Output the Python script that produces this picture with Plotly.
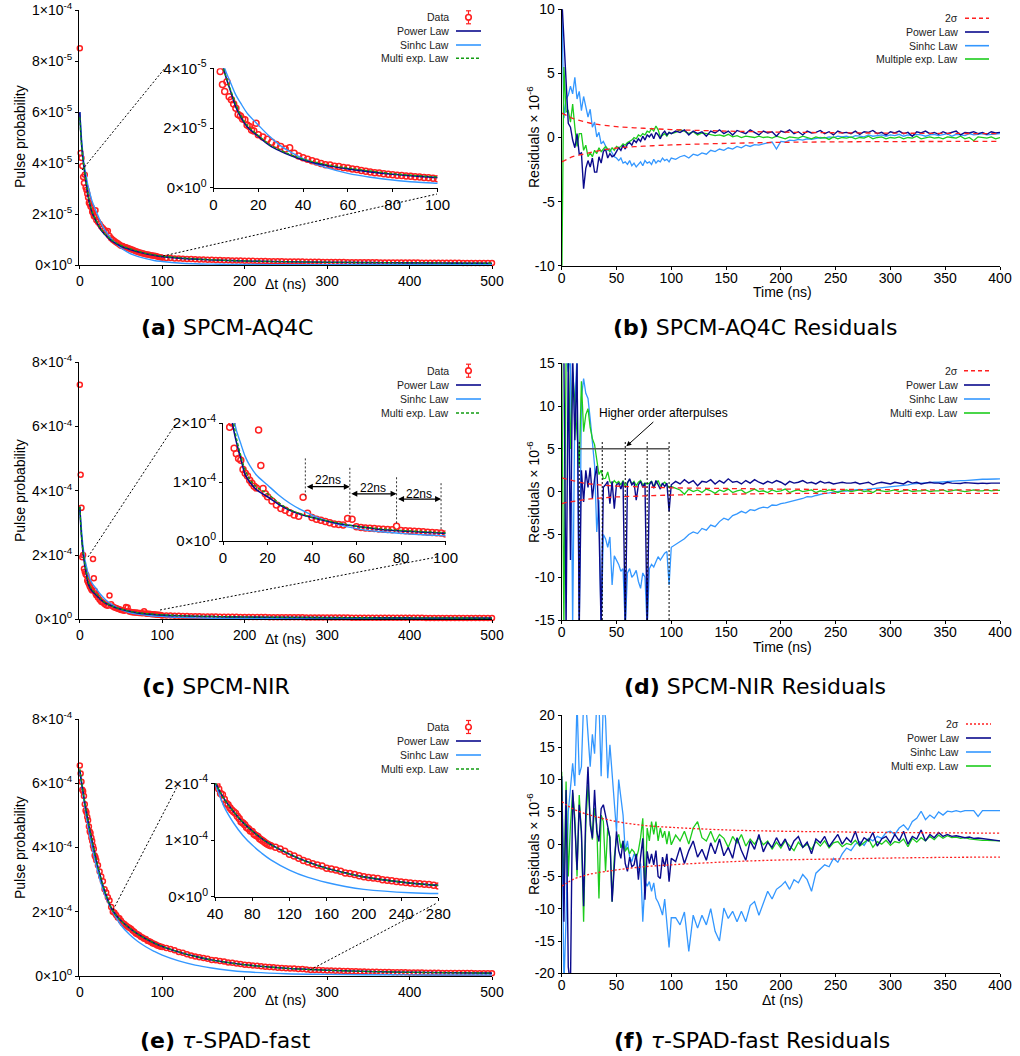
import plotly.graph_objects as go

W, H = 1020, 1056
FONT = "Liberation Sans"
CAP_FONT = "DejaVu Sans"
NAVY = "#0a0a8c"
SKY = "#3397ff"
GREEN = "#1ccc1c"
GREEN_D = "#119c11"
RED = "#ff2020"

# ---------------- data (probabilities: a in 1e-5 units, c/e in 1e-4 units) ----------------
DATA_T = list(range(0, 21)) + list(range(22, 101, 2)) + list(range(105, 501, 5))
FIT_T = [0, 1, 2, 3, 4, 5, 6, 8, 10, 12, 15, 20, 25, 30, 35, 40, 50, 60, 70, 80, 90, 100,
         120, 140, 160, 180, 200, 250, 300, 350, 400, 450, 500]
RES_T = list(range(0, 101, 2)) + list(range(104, 401, 4))
SIG_T = [0, 5, 10, 20, 30, 50, 75, 100, 150, 200, 250, 300, 350, 400]

A_DATA = [8.5, 4.4, 4.2, 3.89, 3.46, 3.22, 3.55, 3.05, 2.95, 2.8, 2.66, 2.45, 2.4, 2.3, 2.28, 2.1, 2.05, 1.93, 1.9, 2.16, 1.77,
          1.7, 1.62, 1.52, 1.45, 1.38, 1.3, 1.34, 1.15, 1.06, 1.0,
          0.95, 0.9, 0.86, 0.81, 0.77, 0.76, 0.72, 0.71, 0.68, 0.66,
          0.63, 0.61, 0.58, 0.55, 0.53, 0.5, 0.49, 0.47, 0.45, 0.43,
          0.42, 0.41, 0.39, 0.38, 0.37, 0.36, 0.34, 0.33, 0.32, 0.3,
          0.29, 0.285, 0.27, 0.265, 0.255, 0.25, 0.245, 0.235, 0.23, 0.225,
          0.22, 0.215, 0.21, 0.205, 0.2, 0.198, 0.19, 0.188, 0.185, 0.18,
          0.178, 0.175, 0.17, 0.168, 0.165, 0.163, 0.16, 0.158, 0.155, 0.153,
          0.15, 0.148, 0.146, 0.144, 0.142, 0.14, 0.138, 0.136, 0.134, 0.132,
          0.13, 0.128, 0.127, 0.126, 0.124, 0.123, 0.122, 0.12, 0.119, 0.118,
          0.117, 0.116, 0.114, 0.113, 0.112, 0.111, 0.11, 0.109, 0.108, 0.107,
          0.106, 0.105, 0.104, 0.103, 0.102, 0.101, 0.1, 0.099, 0.098, 0.097,
          0.096, 0.095, 0.094, 0.093, 0.092, 0.091, 0.09, 0.089, 0.088, 0.087]
A_POW = [6.0, 5.3, 4.8, 4.4, 4.1, 3.85, 3.6, 3.15, 2.7, 2.4, 2.05, 1.72, 1.42, 1.22, 1.06, 0.93, 0.75, 0.63, 0.53, 0.45,
         0.39, 0.34, 0.28, 0.24, 0.21, 0.19, 0.17, 0.14, 0.12, 0.105, 0.095, 0.087, 0.08]
A_SIN = [6.0, 5.5, 5.0, 4.6, 4.3, 4.0, 3.8, 3.45, 3.1, 2.85, 2.5, 2.1, 1.72, 1.4, 1.17, 0.97, 0.68, 0.48, 0.35, 0.26,
         0.19, 0.15, 0.09, 0.06, 0.045, 0.035, 0.03, 0.025, 0.02, 0.02, 0.02, 0.02, 0.02]
A_MUL = [5.8, 5.2, 4.75, 4.4, 4.1, 3.85, 3.62, 3.2, 2.8, 2.45, 2.1, 1.75, 1.45, 1.25, 1.09, 0.96, 0.78, 0.66, 0.56, 0.47,
         0.41, 0.36, 0.3, 0.25, 0.22, 0.19, 0.17, 0.14, 0.12, 0.105, 0.095, 0.087, 0.08]

C_DATA = [7.3, 4.5, 3.47, 1.93, 2.0, 1.57, 1.48, 1.4, 1.37, 1.21, 1.15, 1.1, 1.03, 0.98, 0.93, 0.9, 1.88, 1.28, 0.89, 0.8, 0.75,
          0.68, 0.61, 0.55, 0.52, 0.48, 0.44, 0.42, 0.74, 0.47, 0.4,
          0.37, 0.35, 0.33, 0.31, 0.29, 0.28, 0.27, 0.38, 0.37, 0.24,
          0.23, 0.22, 0.215, 0.21, 0.205, 0.2, 0.195, 0.19, 0.25, 0.18,
          0.175, 0.17, 0.165, 0.16, 0.155, 0.15, 0.145, 0.14, 0.135, 0.12,
          0.118, 0.115, 0.11, 0.107, 0.104, 0.1, 0.098, 0.095, 0.092, 0.09,
          0.088, 0.086, 0.084, 0.082, 0.08, 0.079, 0.077, 0.076, 0.074, 0.073,
          0.072, 0.071, 0.07, 0.069, 0.068, 0.067, 0.066, 0.065, 0.064, 0.063,
          0.062, 0.061, 0.061, 0.06, 0.059, 0.058, 0.058, 0.057, 0.056, 0.056,
          0.055, 0.055, 0.054, 0.053, 0.053, 0.052, 0.052, 0.051, 0.051, 0.05,
          0.05, 0.049, 0.049, 0.048, 0.048, 0.047, 0.047, 0.047, 0.046, 0.046,
          0.045, 0.045, 0.045, 0.044, 0.044, 0.044, 0.043, 0.043, 0.043, 0.042,
          0.042, 0.042, 0.041, 0.041, 0.041, 0.04, 0.04, 0.04, 0.04, 0.039]
C_POW = [3.5, 3.0, 2.6, 2.3, 2.05, 1.85, 1.68, 1.4, 1.12, 1.0, 0.87, 0.75, 0.62, 0.52, 0.45, 0.4, 0.31, 0.25, 0.2, 0.17,
         0.15, 0.13, 0.11, 0.095, 0.085, 0.077, 0.07, 0.06, 0.052, 0.047, 0.043, 0.04, 0.038]
C_SIN = [3.5, 3.1, 2.8, 2.5, 2.25, 2.05, 1.88, 1.65, 1.43, 1.28, 1.12, 0.95, 0.78, 0.64, 0.53, 0.44, 0.3, 0.21, 0.16, 0.13,
         0.105, 0.09, 0.06, 0.045, 0.035, 0.03, 0.025, 0.02, 0.02, 0.02, 0.02, 0.02, 0.02]
C_MUL = [3.5, 3.0, 2.6, 2.3, 2.1, 1.95, 1.75, 1.45, 1.2, 1.05, 0.92, 0.8, 0.65, 0.53, 0.46, 0.4, 0.32, 0.25, 0.21, 0.18,
         0.16, 0.14, 0.115, 0.1, 0.088, 0.08, 0.072, 0.062, 0.054, 0.048, 0.044, 0.041, 0.038]

E_DATA = [6.55, 6.3, 6.05, 5.8, 5.75, 5.6, 5.35, 5.15, 5.1, 4.95, 4.85, 4.65, 4.5, 4.45, 4.3, 4.2, 4.05, 3.95, 3.75, 3.7, 3.6,
          3.45, 3.25, 3.1, 2.95, 2.7, 2.6, 2.45, 2.35, 2.15, 2.0,
          1.97, 1.9, 1.82, 1.8, 1.72, 1.65, 1.62, 1.57, 1.53, 1.5,
          1.47, 1.42, 1.38, 1.32, 1.3, 1.27, 1.22, 1.2, 1.16, 1.15,
          1.1, 1.08, 1.06, 1.02, 1.0, 0.98, 0.95, 0.93, 0.91, 0.9,
          0.87, 0.84, 0.8, 0.75, 0.72, 0.68, 0.64, 0.61, 0.58, 0.56,
          0.54, 0.5, 0.49, 0.47, 0.45, 0.42, 0.41, 0.39, 0.37, 0.35,
          0.34, 0.33, 0.32, 0.3, 0.29, 0.28, 0.27, 0.26, 0.25, 0.24,
          0.235, 0.23, 0.22, 0.215, 0.2, 0.19, 0.19, 0.185, 0.18, 0.175,
          0.17, 0.165, 0.16, 0.156, 0.152, 0.148, 0.145, 0.142, 0.139, 0.136,
          0.133, 0.13, 0.128, 0.125, 0.122, 0.12, 0.118, 0.116, 0.114, 0.112,
          0.11, 0.108, 0.106, 0.104, 0.102, 0.1, 0.099, 0.097, 0.096, 0.095,
          0.094, 0.093, 0.092, 0.091, 0.09, 0.089, 0.088, 0.087, 0.086, 0.085]
E_POW = [6.4, 6.22, 6.05, 5.88, 5.72, 5.56, 5.4, 5.1, 4.82, 4.55, 4.18, 3.6, 3.1, 2.65, 2.3, 2.03, 1.72, 1.5, 1.31, 1.16,
         1.03, 0.92, 0.75, 0.61, 0.5, 0.42, 0.35, 0.24, 0.18, 0.14, 0.115, 0.1, 0.09]
E_SIN = [6.4, 6.2, 6.0, 5.8, 5.62, 5.45, 5.28, 4.95, 4.65, 4.37, 3.98, 3.42, 2.95, 2.55, 2.25, 2.0, 1.58, 1.3, 1.08, 0.91,
         0.77, 0.65, 0.47, 0.34, 0.25, 0.18, 0.13, 0.07, 0.05, 0.04, 0.035, 0.03, 0.03]
E_MUL = [6.45, 6.25, 6.07, 5.9, 5.73, 5.57, 5.41, 5.1, 4.83, 4.56, 4.18, 3.6, 3.1, 2.66, 2.3, 2.03, 1.72, 1.5, 1.31, 1.16,
         1.03, 0.92, 0.75, 0.61, 0.5, 0.42, 0.35, 0.24, 0.18, 0.14, 0.115, 0.1, 0.09]

# ---------------- residuals (x 1e-6) ----------------
B_POW = [11, 7.5, 5.0, 1.1, 0.8, -0.2, -0.8, 0.3, -1.3, -1.2,
         -4.0, -2.4, -1.8, -2.3, -1.6, -2.7, -2.7, -1.5, -2.0, -1.1,
         -0.9, -1.6, -1.25, -1.5, -1.4, -1.1, -0.8, -1.0, -0.6, -0.9,
         -0.5, -0.4, -0.6, -0.2, -0.4, -0.1, -0.3, 0.1, -0.2, 0.2,
         0.05, 0.3, -0.1, 0.4, 0.2, -0.1, 0.3, 0.5, 0.2, 0.4,
         0.3,
         0.5, 0.4, 0.6, 0.2, 0.5, 0.3, 0.45, 0.1, 0.5, 0.35,
         0.6, 0.3, 0.5, 0.2, 0.55, 0.4, 0.3, 0.6, 0.4, 0.2,
         0.5, 0.35, 0.45, 0.1, 0.5, 0.4, 0.6, 0.3, 0.45, 0.2,
         0.5, 0.35, 0.4, 0.55, 0.3, 0.45, 0.2, 0.5, 0.35, 0.4,
         0.3, 0.5, 0.25, 0.45, 0.4, 0.55, 0.3, 0.4, 0.2, 0.45,
         0.35, 0.5, 0.3, 0.4, 0.1, 0.45, 0.35, 0.5, 0.3, 0.4,
         0.25, 0.45, 0.3, 0.4, 0.5, 0.2, 0.4, 0.35, 0.45, 0.3,
         0.4, 0.25, 0.45, 0.35, 0.4]
B_SIN = [11, 1.5, 3.0, 3.3, 4.0, 3.4, 4.7, 3.0, 3.6, 2.1,
         3.2, 2.4, 1.6, 2.2, 0.8, 1.2, 0.05, 0.4, -0.5, -0.3,
         -0.7, -1.0, -0.9, -1.25, -1.5, -1.6, -1.8, -1.6, -2.0, -1.9,
         -2.1, -1.8, -2.2, -2.0, -2.3, -2.1, -1.9, -2.2, -1.8, -2.0,
         -1.9, -2.1, -1.7, -2.0, -1.8, -1.9, -1.6, -1.8, -1.7, -1.9,
         -1.6,
         -1.7, -1.5, -1.4, -1.6, -1.3, -1.4, -1.2, -1.3, -1.0, -1.1,
         -0.9, -1.0, -0.8, -0.9, -0.7, -0.8, -0.6, -0.7, -0.55, -0.6,
         -0.5, -0.45, -0.35, -0.9, -0.3, -0.35, -0.2, -0.25, -0.15, -0.2,
         -0.1, -0.15, -0.05, 0.0, -0.05, 0.05, 0.0, 0.1, 0.05, 0.1,
         0.0, 0.15, 0.1, 0.05, 0.2, 0.1, 0.15, 0.2, 0.1, 0.2,
         0.15, 0.25, 0.1, 0.2, 0.15, 0.25, 0.2, 0.1, 0.2, 0.25,
         0.15, 0.2, 0.3, 0.1, 0.25, 0.2, 0.15, 0.3, 0.2, 0.25,
         0.3, 0.2, 0.25, 0.3, 0.3]
B_MUL = [-12, 5.5, 2.0, 2.1, 1.2, 2.6, 0.8, -0.7, 0.3, 0.3,
         -1.0, -0.6, -1.5, -1.2, -1.5, -1.0, -1.25, -0.8, -1.1, -0.9,
         -0.7, -0.9, -1.1, -0.8, -1.0, -0.7, -0.8, -0.7, -0.5, -0.6,
         -0.4, -0.3, -0.2, 0.0, -0.1, 0.2, 0.1, 0.3, 0.2, 0.5,
         0.4, 0.7, 0.5, 0.9, 0.6, 0.05, 0.2, 0.3, 0.1, 0.4,
         0.3,
         0.4, 0.6, 0.5, 0.3, 0.45, 0.2, 0.35, 0.3, 0.25, 0.15,
         0.2, 0.1, 0.25, 0.05, 0.15, 0.0, 0.1, 0.05, 0.0, 0.1,
         0.0, 0.05, -0.05, 0.1, 0.0, -0.1, 0.05, 0.0, -0.05, 0.1,
         0.0, -0.1, 0.05, -0.05, 0.0, -0.15, 0.05, -0.1, 0.0, -0.05,
         0.05, -0.1, 0.0, -0.05, 0.1, -0.1, 0.0, 0.05, -0.1, 0.0,
         -0.05, 0.05, -0.1, 0.0, -0.05, 0.1, -0.1, 0.0, 0.05, -0.05,
         0.0, -0.1, 0.05, 0.0, -0.05, 0.1, -0.1, 0.0, -0.25, 0.05,
         0.0, -0.05, 0.05, -0.1, 0.0]
B_SIG_UP = [1.9, 1.7, 1.5, 1.25, 1.05, 0.85, 0.72, 0.62, 0.5, 0.42, 0.37, 0.34, 0.32, 0.3]
B_SIG_LO = [-1.9, -1.7, -1.5, -1.3, -1.1, -0.82, -0.68, -0.58, -0.46, -0.38, -0.34, -0.32, -0.31, -0.3]

D_POW = [18, 16, -16, 16, -8, 16, 6, 15, -16, 2.5,
         -1.2, 2.5, 0.5, 2.8, -0.8, 1.5, 3.0, -3.7, -16, 0.5,
         0.8, 1.2, -1.4, 1.2, -2.0, 0.8, 1.0, 0.3, 1.2, -16,
         1.0, 1.5, 0.8, 1.1, -1.0, 0.8, 1.2, 0.5, 1.0, -16,
         0.8, 1.2, 0.4, 1.3, 0.8, 0.3, 1.0, 0.6, 1.0, -2.3,
         0.8,
         1.2, 0.9, 1.4, 1.0, 1.3, 0.7, 1.2, 1.1, 1.4, 0.9,
         1.3, 1.0, 1.5, 1.1, 1.2, 0.9, 1.3, 1.0, 1.4, 1.1,
         0.9, 1.2, 1.0, 1.3, 1.1, 0.8, 1.2, 1.0, 1.1, 1.3,
         1.0, 1.1, 0.9, 1.2, 1.0, 1.1, 0.9, 1.0, 1.1, 1.0,
         1.0, 1.1, 0.9, 1.0, 1.1, 0.8, 1.0, 1.1, 1.0, 0.9,
         1.1, 1.0, 0.9, 1.2, 1.0, 1.1, 0.9, 1.0, 1.1, 1.0,
         1.0, 0.9, 1.1, 1.0, 1.0, 0.95, 1.05, 1.0, 1.0, 0.95,
         1.0, 0.95, 1.0, 1.0, 1.0]
D_SIN = [16, 16, 16, 14, 16, -16, 10, 16, -16, 11,
         13.2, 11.5, 10.9, 8.5, 6.0, 3.1, -4.7, -1.0, -16, -5.0,
         -5.5, -6.5, -5.3, -10.9, -7.5, -8.0, -8.5, -9.3, -9.0, -16,
         -9.5, -9.0, -10.0, -9.7, -9.2, -10.5, -11.3, -9.5, -10.0, -16,
         -9.0, -8.5, -8.8, -8.2, -7.6, -8.0, -7.6, -7.2, -7.0, -10.9,
         -6.5,
         -6.2, -5.8, -5.5, -5.0, -4.7, -4.9, -4.3, -4.5, -3.9, -4.1,
         -3.5, -3.1, -3.3, -2.8, -2.6, -2.3, -2.5, -2.1, -2.2, -1.95,
         -1.8, -1.9, -1.56, -1.6, -1.4, -1.3, -1.17, -1.0, -0.9, -0.8,
         -0.58, -0.6, -0.45, -0.3, -0.2, -0.15, -0.05, 0.0, 0.08, 0.05,
         0.15, 0.2, 0.25, 0.2, 0.3, 0.35, 0.4, 0.45, 0.5, 0.58,
         0.6, 0.7, 0.75, 0.8, 0.9, 0.95, 0.97, 1.0, 1.05, 1.1,
         1.1, 1.15, 1.17, 1.2, 1.25, 1.3, 1.3, 1.35, 1.4, 1.4,
         1.45, 1.45, 1.5, 1.48, 1.5]
D_MUL = [16, -16, 16, 16, 5, 14, 10.5, 6, 3, 12.9,
         7.0, 9.0, 9.7, 7.5, 6.2, 5.5, 3.5, 2.0, 2.5, 1.5,
         1.56, 2.3, 1.17, 0.9, 1.3, 1.0, 1.2, 0.8, 1.3, 0.6,
         1.1, 1.4, 0.9, 1.2, 0.7, 1.1, 1.3, 0.8, 1.0, 0.9,
         1.0, 1.2, 0.6, 1.0, 1.3, 0.7, 0.9, 1.1, 0.8, 0.5,
         0.6,
         0.4, 0.2, -0.3, 0.3, 0.0, 0.2, -0.1, 0.3, 0.1, -0.2,
         0.2, 0.0, 0.3, -0.1, 0.1, 0.2, -0.2, 0.1, 0.3, 0.0,
         0.1, -0.1, 0.2, 0.0, 0.1, 0.3, -0.1, 0.1, 0.2, 0.0,
         0.1, 0.2, -0.1, 0.1, 0.0, 0.2, 0.1, -0.1, 0.1, 0.2,
         0.0, 0.1, 0.2, 0.0, 0.1, -0.1, 0.2, 0.1, 0.0, 0.1,
         0.2, 0.0, 0.1, 0.2, 0.0, 0.1, 0.1, 0.2, 0.0, 0.1,
         0.1, 0.2, 0.0, 0.1, 0.2, 0.1, 0.0, 0.1, 0.2, 0.1,
         0.1, 0.2, 0.1, 0.15, 0.15]
D_SIG_UP = [1.6, 1.45, 1.3, 1.0, 0.85, 0.65, 0.55, 0.45, 0.37, 0.3, 0.26, 0.23, 0.21, 0.2]
D_SIG_LO = [-1.4, -1.25, -1.15, -0.95, -0.8, -0.62, -0.5, -0.4, -0.3, -0.22, -0.2, -0.2, -0.19, -0.19]

F_POW = [10.5, -12, 8.4, -19, -22, 8.4, 3.0, -4.0, 6.1, 2.0,
         -9.6, 5.0, 12.0, 3.0, 0.9, 8.4, 2.0, 0.4, 5.5, 6.1,
         4.5, 3.0, 1.0, -8.9, -3.0, 2.0, -1.0, -2.2, 0.5, -3.0,
         -4.2, -2.0, -3.5, -3.2, -1.5, -5.5, -2.0, 0.9, -8.6, -1.1,
         -3.0, -1.5, -3.2, -1.0, -5.0, -5.3, -2.0, -3.5, -1.5, -5.8,
         -2.2,
         -2.7, -0.5, -3.0, -1.0, 0.5, -2.0, -0.8, -2.5, 0.2, -1.5,
         0.8, -1.8, -0.5, -2.2, 1.0, -1.0, -2.5, 0.5, -0.8, 1.5,
         -1.2, 0.3, -0.5, 1.0, -0.3, 0.8, -1.0, 0.5, 1.2, -0.5,
         0.3, -1.5, 0.8, 0.2, 1.2, -0.4, 0.6, 1.5, 0.0, 1.0,
         0.3, 2.0, -0.2, 1.0, 0.5, 1.8, -0.3, 0.8, 1.2, 0.2,
         1.5, 0.5, 2.0, 0.0, 1.2, 0.8, 2.2, 0.5, 1.5, 1.0,
         1.8, 1.2, 1.5, 1.2, 1.3, 1.1, 1.0, 1.1, 0.9, 0.95,
         0.85, 0.8, 0.7, 0.6, 0.5]
F_SIN = [10, -22, -11.4, 5.0, 8.7, 12.5, 9.0, 22, 10.7, 12.0,
         22, 22, 17.0, 12.0, 17.0, 14.0, 22, 22, 10.5, 22,
         19.5, 10.2, 15.4, 10.5, 6.0, 2.0, 10.0, 7.0, 4.5, -1.1,
         0.5, -2.0, -2.7, -1.5, -2.2, -4.0, -3.0, -12.0, -5.8, -6.5,
         -5.8, -7.3, -6.0, -8.4, -9.0, -9.9, -11.0, -8.5, -12.0, -16.0,
         -11.4,
         -11.4, -12.5, -10.5, -16.6, -11.0, -13.0, -11.0, -12.5, -10.0, -13.5,
         -15.0, -9.9, -11.5, -10.4, -12.0, -10.4, -12.0, -9.5, -8.9, -11.0,
         -9.0, -7.3, -8.5, -7.0, -6.5, -5.8, -7.0, -5.5, -6.0, -4.7,
         -5.5, -7.3, -4.5, -3.8, -3.2, -3.5, -2.2, -2.8, -1.5, -0.6,
         -1.0, 0.0, 0.4, -0.2, 0.9, 0.5, 1.2, 0.9, 1.8, 2.0,
         1.5, 2.5, 3.0, 2.2, 3.5, 4.0, 5.1, 3.8, 4.5, 4.0,
         5.0, 4.5, 5.1, 5.0, 5.2, 5.0, 5.2, 5.2, 5.2, 4.3,
         5.2, 5.2, 5.2, 5.2, 5.2]
F_MUL = [11.2, -8, 9.7, -5, 3.0, 8.0, 4.0, -5.0, 7.6, 1.5,
         -12.0, 3.0, 9.2, 4.0, 0.7, 5.6, 3.0, -8.4, 4.5, 3.5,
         -4.2, 2.5, 1.0, -8.9, -2.0, 0.9, 1.5, -0.6, 0.5, -1.1,
         -0.5, -1.5, -0.8, -1.2, -2.2, -1.0, 1.0, 4.0, -7.3, 2.5,
         0.5, 3.5, 1.5, 3.5, 0.5, 2.5, 1.0, 2.0, 0.0, 2.0,
         -0.1,
         1.4, 0.5, 2.0, 0.0, 2.5, 3.5, 1.0, 0.5, 2.0, 0.3,
         1.5, 0.9, -0.5, 1.2, 0.2, 1.5, -0.3, 0.8, 0.0, 1.0,
         -0.1, 0.5, -0.8, 0.3, -0.6, 0.5, -0.2, -1.0, 0.3, -0.5,
         0.0, -0.8, 0.4, -0.3, 0.5, -0.6, 0.2, 0.4, -0.4, 0.1,
         -0.1, 0.6, -0.3, 0.2, 0.8, -0.5, 0.4, 0.0, 0.6, -0.2,
         0.4, 0.2, 0.8, -0.4, 0.9, 0.3, 1.0, 0.5, 1.2, 0.7,
         1.4, 0.9, 1.3, 1.0, 1.1, 0.9, 1.0, 0.8, 0.7, 0.7,
         0.6, 0.6, 0.55, 0.5, 0.5]
F_SIG_UP = [6.6, 6.0, 5.5, 4.8, 4.3, 3.5, 2.9, 2.6, 2.2, 2.0, 1.9, 1.8, 1.75, 1.7]
F_SIG_LO = [-6.5, -6.0, -5.5, -4.9, -4.5, -4.0, -3.5, -3.2, -2.75, -2.45, -2.3, -2.15, -2.05, -2.0]

AFTERPULSE_T = [16, 37, 58, 78, 98]
GAP_ARROWS = [(37, 57, 0.92, 1.03), (57, 78, 0.80, 0.89), (78, 98, 0.71, 0.79)]
GAP_MARKS = [(37, 1.40, 0.75), (57, 1.24, 0.41), (78, 1.08, 0.27), (98, 0.98, 0.16)]

# ---------------- tick labels ----------------
def sci(m, e):
    return f"{m}×10<sup>{e}</sup>"

MAIN_XT = [0, 100, 200, 300, 400, 500]
RES_XT = [0, 50, 100, 150, 200, 250, 300, 350, 400]
A_YT = [0, 2, 4, 6, 8, 10]
A_YL = [sci(0, 0), sci(2, -5), sci(4, -5), sci(6, -5), sci(8, -5), sci(1, -4)]
CE_YT = [0, 2, 4, 6, 8]
CE_YL = [sci(0, 0), sci(2, -4), sci(4, -4), sci(6, -4), sci(8, -4)]
AI_YT = [0, 2, 4]
AI_YL = [sci(0, 0), sci(2, -5), sci(4, -5)]
CI_YT = [0, 1, 2]
CI_YL = [sci(0, 0), sci(1, -4), sci(2, -4)]
INS_XT = [0, 20, 40, 60, 80, 100]
EINS_XT = [40, 80, 120, 160, 200, 240, 280]

# ---------------- layout geometry (pixels) ----------------
def fx(p):
    return p / W

def fy(p):
    return 1 - p / H

AXES = {
    1: dict(xd=(79, 492), yd=(10, 265.3), xr=[-1, 500], yr=[0, 10], xt=MAIN_XT, yt=A_YT, yl=A_YL, fs=14),
    2: dict(xd=(561.7, 1000), yd=(9.3, 265.7), xr=[0, 400], yr=[-10, 10], xt=RES_XT, yt=[-10, -5, 0, 5, 10], yl=None, fs=14),
    3: dict(xd=(79, 492), yd=(362.3, 619.3), xr=[-1, 500], yr=[0, 8], xt=MAIN_XT, yt=CE_YT, yl=CE_YL, fs=14),
    4: dict(xd=(561.7, 1000), yd=(363.3, 620), xr=[0, 400], yr=[-15, 15], xt=RES_XT, yt=[-15, -10, -5, 0, 5, 10, 15], yl=None, fs=14),
    5: dict(xd=(79, 492), yd=(719, 976), xr=[-1, 500], yr=[0, 8], xt=MAIN_XT, yt=CE_YT, yl=CE_YL, fs=14),
    6: dict(xd=(561.7, 1000), yd=(715, 973.3), xr=[0, 400], yr=[-20, 20], xt=RES_XT, yt=[-20, -15, -10, -5, 0, 5, 10, 15, 20], yl=None, fs=14),
    7: dict(xd=(213.5, 437.5), yd=(68.3, 187.7), xr=[0, 100], yr=[0, 4], xt=INS_XT, yt=AI_YT, yl=AI_YL, fs=15),
    8: dict(xd=(223, 445.5), yd=(423, 541), xr=[0, 100], yr=[0, 2], xt=INS_XT, yt=CI_YT, yl=CI_YL, fs=15),
    9: dict(xd=(215, 438.3), yd=(783.3, 896.7), xr=[40, 280], yr=[0, 2], xt=EINS_XT, yt=CI_YT, yl=CI_YL, fs=15),
}

def names(k):
    return ("x" if k == 1 else f"x{k}", "y" if k == 1 else f"y{k}")

fig = go.Figure()

def lines(k, x, y, color, width=1.5, dash="solid", shape="spline"):
    xa, ya = names(k)
    fig.add_trace(go.Scatter(x=x, y=y, xaxis=xa, yaxis=ya, mode="lines",
                             line=dict(color=color, width=width, dash=dash, shape=shape),
                             showlegend=False, hoverinfo="skip"))

def points(k, x, y, size, clip):
    xa, ya = names(k)
    fig.add_trace(go.Scatter(x=x, y=y, xaxis=xa, yaxis=ya, mode="markers",
                             marker=dict(symbol="circle-open", size=size, color=RED,
                                         line=dict(width=1.5, color=RED)),
                             cliponaxis=clip, showlegend=False, hoverinfo="skip"))

# data panels + insets
for main_k, ins_k, data, pw, sn, ml in [(1, 7, A_DATA, A_POW, A_SIN, A_MUL),
                                         (3, 8, C_DATA, C_POW, C_SIN, C_MUL),
                                         (5, 9, E_DATA, E_POW, E_SIN, E_MUL)]:
    for k, sz, clip in [(main_k, 5, False), (ins_k, 6, True)]:
        points(k, DATA_T, data, sz, clip)
        lines(k, FIT_T, sn, SKY, 1.4)
        lines(k, FIT_T, pw, NAVY, 1.6)
        lines(k, FIT_T, ml, GREEN_D, 1.3, dash="3px,2px")

# residual panels
for k, pw, sn, ml, su, sl, sdash in [(2, B_POW, B_SIN, B_MUL, B_SIG_UP, B_SIG_LO, "5px,4px"),
                                      (4, D_POW, D_SIN, D_MUL, D_SIG_UP, D_SIG_LO, "5px,4px"),
                                      (6, F_POW, F_SIN, F_MUL, F_SIG_UP, F_SIG_LO, "2px,2px")]:
    lines(k, RES_T, sn, SKY, 1.3, shape="linear")
    lines(k, RES_T, ml, GREEN, 1.3, shape="linear")
    lines(k, RES_T, pw, NAVY, 1.4, shape="linear")
    lines(k, SIG_T, su, RED, 1.3, dash=sdash)
    lines(k, SIG_T, sl, RED, 1.3, dash=sdash)

# ---------------- axes ----------------
layout = dict(width=W, height=H, margin=dict(l=0, r=0, t=0, b=0, autoexpand=False),
              paper_bgcolor="white", plot_bgcolor="rgba(0,0,0,0)", showlegend=False)
for k, a in AXES.items():
    xa, ya = names(k)
    xkey = "xaxis" if k == 1 else f"xaxis{k}"
    ykey = "yaxis" if k == 1 else f"yaxis{k}"
    tf = dict(family=FONT, size=a["fs"], color="black")
    layout[xkey] = dict(domain=[fx(a["xd"][0]), fx(a["xd"][1])], range=a["xr"], anchor=ya,
                        showline=True, linecolor="black", linewidth=1, ticks="outside", ticklen=3,
                        tickcolor="black", showgrid=False, zeroline=False, tickvals=a["xt"],
                        ticktext=[str(v) for v in a["xt"]], tickfont=tf, fixedrange=True,
                        automargin=False)
    ydict = dict(domain=[fy(a["yd"][1]), fy(a["yd"][0])], range=a["yr"], anchor=xa,
                 showline=True, linecolor="black", linewidth=1, ticks="outside", ticklen=3,
                 tickcolor="black", showgrid=False, zeroline=False, tickvals=a["yt"],
                 tickfont=tf, fixedrange=True, automargin=False)
    ydict["ticktext"] = a["yl"] if a["yl"] else [str(v) for v in a["yt"]]
    layout[ykey] = ydict

shapes = []
annots = []

def ptxt(x, y, text, size=14, anchor="center", angle=0, family=FONT, color="black"):
    annots.append(dict(x=fx(x), y=fy(y), xref="paper", yref="paper", text=text, showarrow=False,
                       xanchor=anchor, yanchor="middle", textangle=angle,
                       font=dict(family=family, size=size, color=color)))

def pline(x0, y0, x1, y1, color="black", width=1, dash="solid"):
    shapes.append(dict(type="line", xref="paper", yref="paper", x0=fx(x0), y0=fy(y0), x1=fx(x1), y1=fy(y1),
                       line=dict(color=color, width=width, dash=dash)))

# axis titles
for yc in (137, 491, 848):
    ptxt(20, yc, "Pulse probability", 14, angle=-90)
for yc in (137, 492, 844):
    ptxt(533, yc, "Residuals × 10<sup>-6</sup>", 14, angle=-90)
ptxt(285, 284, "Δt (ns)", 14)
ptxt(285, 639, "Δt (ns)", 14)
ptxt(285, 1000, "Δt (ns)", 14)
ptxt(782, 292, "Time (ns)", 14)
ptxt(782, 647, "Time (ns)", 14)
ptxt(782, 1000, "Δt (ns)", 14)

# captions
ptxt(227, 328, "<b>(a)</b> SPCM-AQ4C", 22, family=CAP_FONT)
ptxt(755, 328, "<b>(b)</b> SPCM-AQ4C Residuals", 22, family=CAP_FONT)
ptxt(216, 686, "<b>(c)</b> SPCM-NIR", 22, family=CAP_FONT)
ptxt(755, 686, "<b>(d)</b> SPCM-NIR Residuals", 22, family=CAP_FONT)
ptxt(225, 1040, "<b>(e)</b> <i>τ</i>-SPAD-fast", 22, family=CAP_FONT)
ptxt(752, 1040, "<b>(f)</b> <i>τ</i>-SPAD-fast Residuals", 22, family=CAP_FONT)

# legends
def legend(text_right, lx0, lx1, rows):
    for label, kind, color, dash, y in rows:
        ptxt(text_right, y, label, 10.5, anchor="right", color="#222")
        if kind == "data":
            cx = (lx0 + lx1) / 2
            pline(cx, y - 6.5, cx, y + 6.5, RED, 1.2)
            pline(cx - 2.5, y - 6.5, cx + 2.5, y - 6.5, RED, 1.2)
            pline(cx - 2.5, y + 6.5, cx + 2.5, y + 6.5, RED, 1.2)
            shapes.append(dict(type="circle", xref="paper", yref="paper",
                               x0=fx(cx - 2.8), x1=fx(cx + 2.8), y0=fy(y + 2.8), y1=fy(y - 2.8),
                               line=dict(color=RED, width=1.6), fillcolor="white"))
        else:
            pline(lx0, y, lx1, y, color, 1.6, dash)

data_rows = lambda ys: [("Data", "data", RED, None, ys[0]),
                        ("Power Law", "line", NAVY, "solid", ys[1]),
                        ("Sinhc Law", "line", SKY, "solid", ys[2]),
                        ("Multi exp. Law", "line", GREEN_D, "3px,2px", ys[3])]
legend(451, 456, 481, data_rows([17.3, 31, 45, 58.3]))
legend(451, 456, 481, data_rows([370.7, 385, 399, 413]))
legend(451, 456, 481, data_rows([727, 741, 755, 769]))
legend(960, 965, 989, [("2σ", "line", RED, "4px,3px", 18.3), ("Power Law", "line", NAVY, "solid", 32),
                       ("Sinhc Law", "line", SKY, "solid", 45.7), ("Multiple exp. Law", "line", GREEN, "solid", 59)])
legend(960, 964, 990, [("2σ", "line", RED, "4px,3px", 370.7), ("Power Law", "line", NAVY, "solid", 385),
                       ("Sinhc Law", "line", SKY, "solid", 399), ("Multi exp. Law", "line", GREEN, "solid", 413)])
legend(961, 966, 991, [("2σ", "line", RED, "2px,2px", 724), ("Power Law", "line", NAVY, "solid", 738),
                       ("Sinhc Law", "line", SKY, "solid", 752), ("Multi exp. Law", "line", GREEN, "solid", 766)])

# zoom connector lines
for (x0, y0, x1, y1) in [(82, 170, 165, 68), (163, 256, 437, 194),
                         (88, 557, 175, 425), (160, 610, 437, 557),
                         (113, 910, 178, 785), (310, 970, 437, 903)]:
    pline(x0, y0, x1, y1, "black", 1, "2px,2px")

# (d) afterpulse markers
shapes.append(dict(type="line", xref="x4", yref="y4", x0=AFTERPULSE_T[0], x1=AFTERPULSE_T[-1], y0=5, y1=5,
                   line=dict(color="#555555", width=1.5)))
for t in AFTERPULSE_T:
    shapes.append(dict(type="line", xref="x4", yref="y4", x0=t, x1=t, y0=5.8, y1=-15,
                       line=dict(color="black", width=1, dash="2px,2px")))
ptxt(663, 413, "Higher order afterpulses", 12)
annots.append(dict(x=59, y=5.3, xref="x4", yref="y4", ax=85, ay=8.3, axref="x4", ayref="y4",
                   text="", showarrow=True, arrowhead=2, arrowsize=1, arrowwidth=1, arrowcolor="black"))

# (c) inset 22ns spacing marks
for t, ytop, ybot in GAP_MARKS:
    shapes.append(dict(type="line", xref="x8", yref="y8", x0=t, x1=t, y0=ytop, y1=ybot,
                       line=dict(color="#333333", width=1, dash="2px,2px")))
for t0, t1, ya, yt in GAP_ARROWS:
    annots.append(dict(x=t1, y=ya, ax=t0, ay=ya, xref="x8", yref="y8", axref="x8", ayref="y8",
                       text="", showarrow=True, arrowhead=2, startarrowhead=2, arrowside="end+start",
                       arrowsize=1, arrowwidth=1.2, arrowcolor="black"))
    annots.append(dict(x=(t0 + t1) / 2, y=yt, xref="x8", yref="y8", text="22ns",
                       showarrow=False, font=dict(family=FONT, size=12, color="black")))

layout["shapes"] = shapes
layout["annotations"] = annots
fig.update_layout(**layout)

# pull the residual-panel x tick labels a little closer to their axes
for key in ("xaxis2", "xaxis4", "xaxis6"):
    try:
        fig.layout[key].ticklabelstandoff = -4
    except Exception:
        fig.layout[key].ticklen = 1

fig.write_html("out.html", config={"displayModeBar": False})

# remove the default page margin so the figure sits at the window origin
with open("out.html", "r", encoding="utf-8") as f:
    html = f.read()
html = html.replace("<head>", "<head><style>html,body{margin:0;padding:0;overflow:hidden;}</style>", 1)
with open("out.html", "w", encoding="utf-8") as f:
    f.write(html)
